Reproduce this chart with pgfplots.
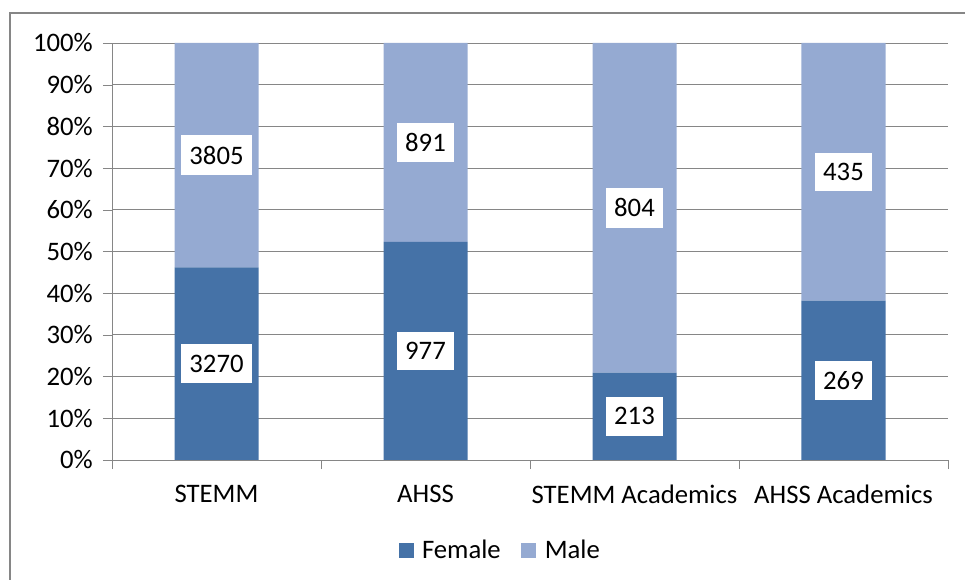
\documentclass[border=0pt]{standalone}
\usepackage{pgfplots}
\pgfplotsset{compat=1.18}
\usepackage{pgfplotstable}
\usepackage{fontspec}
\setmainfont{Carlito}

\definecolor{female}{RGB}{69,114,167}
\definecolor{male}{RGB}{149,170,210}
\definecolor{gridgray}{RGB}{134,134,134}

\newcommand{\chartfont}{\fontsize{15.2}{18}\selectfont}

% counts per group, share of group total (%), and middle of each segment
\pgfplotstableread{
x  f     m     fpct   mpct   fmid   mmid
0  3270  3805  46.22  53.78  23.11  73.11
1  977   891   52.30  47.70  26.15  76.15
2  213   804   20.94  79.06  10.47  60.47
3  269   435   38.21  61.79  19.11  69.11
}\groupdata

\begin{document}
\begin{tikzpicture}[x=1cm,y=1cm]
\useasboundingbox (0,0) rectangle (19.3,11.6);
% chart frame (right and bottom edges are cut off in the original)
\draw[gridgray, line width=1.1pt] (0.2,-0.5) -- (0.2,11.34) -- (19.8,11.34);

\begin{axis}[
    at={(2.24cm,2.4cm)}, anchor=south west,
    scale only axis, width=16.72cm, height=8.34cm,
    ybar stacked, bar width=1.68cm,
    xmin=-0.5, xmax=3.5, ymin=0, ymax=100,
    xtick={0,1,2,3},
    xticklabels={STEMM, AHSS, STEMM Academics, AHSS Academics},
    minor xtick={-0.5,0.5,1.5,2.5,3.5},
    ytick={0,10,...,100},
    yticklabels={0\%,10\%,20\%,30\%,40\%,50\%,60\%,70\%,80\%,90\%,100\%},
    axis x line*=bottom, axis y line*=left,
    axis line style={gridgray, -},
    tick align=outside,
    major tick length=0.18cm, minor tick length=0.18cm,
    major x tick style={draw=none},
    minor x tick style={gridgray},
    ytick style={gridgray},
    ymajorgrids, major grid style={gridgray, line width=0.5pt},
    tick label style={font=\chartfont, text=black},
    xticklabel style={yshift=-0.2cm},
    yticklabel style={xshift=-0.08cm},
    legend style={at={(0.336,-0.218)}, anchor=west, draw=none, fill=none,
        legend columns=2, font=\chartfont,
        /tikz/every odd column/.append style={column sep=0.1cm},
        /tikz/every even column/.append style={column sep=0.34cm}},
    legend image code/.code={\fill[#1] (0cm,-0.15cm) rectangle (0.3cm,0.15cm);},
]
    \addplot[fill=female, draw=none] table[x=x, y=fpct]{\groupdata};
    \addlegendentry{Female}
    \addplot[fill=male, draw=none] table[x=x, y=mpct]{\groupdata};
    \addlegendentry{Male}
\end{axis}

% data labels (counts) centred in each segment
\begin{axis}[
    at={(2.24cm,2.4cm)}, anchor=south west,
    scale only axis, width=16.72cm, height=8.34cm,
    xmin=-0.5, xmax=3.5, ymin=0, ymax=100,
    hide axis,
    nodes near coords, point meta=explicit symbolic,
    nodes near coords align={center},
    every node near coord/.append style={fill=white, text=black,
        inner xsep=0.17cm, inner ysep=0.21cm, font=\chartfont},
]
    \addplot[draw=none, mark=none] table[x=x, y=fmid, meta=f]{\groupdata};
    \addplot[draw=none, mark=none] table[x=x, y=mmid, meta=m]{\groupdata};
\end{axis}
\end{tikzpicture}
\end{document}
